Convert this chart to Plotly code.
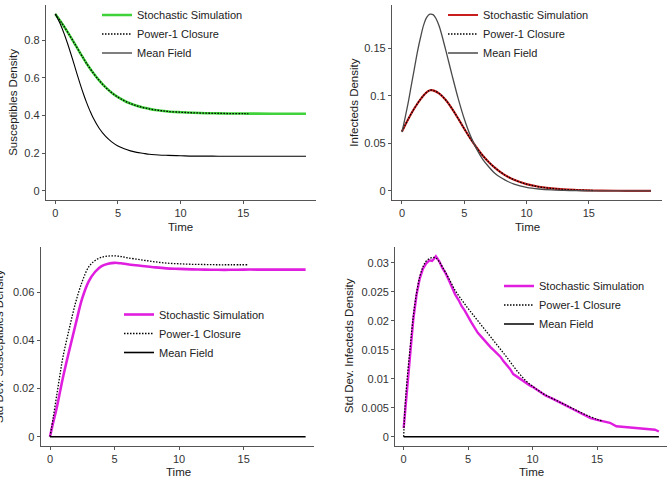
import plotly.graph_objects as go

# ---------------- DATA ----------------
# Mean field (top row)
t_mf = [0, 0.25, 0.5, 0.75, 1, 1.25, 1.5, 1.75, 2, 2.25, 2.5, 2.75, 3, 3.5, 4, 4.5, 5, 5.5,
        6, 6.5, 7, 7.5, 8, 8.5, 9, 10, 11, 12, 13, 14, 15, 16, 18, 20]
mf_S = [0.94, 0.908, 0.871, 0.827, 0.779, 0.727, 0.673, 0.618, 0.565, 0.515, 0.469, 0.428,
        0.391, 0.333, 0.291, 0.261, 0.239, 0.224, 0.213, 0.205, 0.200, 0.195, 0.192, 0.190,
        0.189, 0.187, 0.185, 0.185, 0.1845, 0.1843, 0.1843, 0.1843, 0.1842, 0.1842]
mf_I = [0.062, 0.077, 0.093, 0.111, 0.129, 0.147, 0.162, 0.175, 0.183, 0.186, 0.1855, 0.181,
        0.173, 0.149, 0.123, 0.098, 0.076, 0.058, 0.044, 0.033, 0.025, 0.018, 0.0136, 0.010,
        0.0073, 0.0039, 0.0021, 0.0011, 0.0006, 0.0003, 0.0002, 0.0001, 0.00003, 0.00001]

# Stochastic simulation (top row)
t_st = [0, 0.5, 1, 1.5, 2, 2.25, 2.5, 3, 3.5, 4, 4.5, 5, 5.5, 6, 6.5, 7, 7.5, 8, 8.5, 9,
        10, 11, 12, 13, 14, 15, 16, 18, 20]
st_S = [0.940, 0.893, 0.842, 0.787, 0.731, 0.704, 0.677, 0.629, 0.587, 0.551, 0.522, 0.498,
        0.479, 0.464, 0.452, 0.443, 0.436, 0.430, 0.426, 0.422, 0.418, 0.415, 0.413, 0.412,
        0.411, 0.411, 0.4105, 0.410, 0.410]
st_I = [0.0625, 0.0755, 0.087, 0.0967, 0.104, 0.106, 0.1058, 0.1025, 0.096, 0.087, 0.0765,
        0.0655, 0.055, 0.0455, 0.037, 0.030, 0.024, 0.019, 0.015, 0.0118, 0.0072, 0.0044,
        0.0027, 0.0016, 0.0010, 0.0006, 0.0004, 0.00015, 0.00005]

# Power-1 closure (top row)
t_pc = [0, 0.5, 1, 1.5, 2, 2.25, 2.5, 3, 3.5, 4, 4.5, 5, 5.5, 6, 6.5, 7, 7.5, 8, 8.5, 9,
        10, 11, 12, 13, 14, 15, 15.4]
pc_S = [0.940, 0.893, 0.842, 0.787, 0.731, 0.704, 0.677, 0.629, 0.587, 0.551, 0.522, 0.498,
        0.479, 0.464, 0.452, 0.443, 0.436, 0.430, 0.426, 0.422, 0.418, 0.415, 0.413, 0.412,
        0.411, 0.411, 0.411]
pc_I = [0.0625, 0.0755, 0.087, 0.0967, 0.104, 0.106, 0.1058, 0.1025, 0.096, 0.087, 0.0765,
        0.0655, 0.055, 0.0455, 0.037, 0.030, 0.024, 0.019, 0.015, 0.0118, 0.0072, 0.0044,
        0.0027, 0.0016, 0.0010, 0.0006, 0.0005]

# Std dev susceptibles (bottom left)
t_sdS_st = [0, 0.25, 0.5, 0.75, 1, 1.5, 2, 2.5, 3, 3.5, 4, 4.5, 5, 5.5, 6, 7, 8, 9, 10, 11,
            12, 13, 14, 15, 16, 17, 18, 19, 19.8]
sdS_st = [0, 0.006, 0.0115, 0.018, 0.0245, 0.036, 0.047, 0.0575, 0.0645, 0.0685, 0.0708,
          0.0718, 0.0722, 0.0720, 0.0716, 0.0710, 0.0704, 0.0699, 0.0697, 0.0695, 0.0694,
          0.0693, 0.0693, 0.0694, 0.0694, 0.0694, 0.0694, 0.0694, 0.0694]
t_sdS_pc = [0, 0.25, 0.5, 0.75, 1, 1.5, 2, 2.5, 3, 3.5, 4, 4.5, 5, 5.5, 6, 7, 8, 9, 10, 11,
            12, 13, 14, 15.4]
sdS_pc = [0, 0.008, 0.0165, 0.025, 0.033, 0.045, 0.056, 0.0645, 0.0705, 0.0732, 0.0745,
          0.0750, 0.0751, 0.0748, 0.0743, 0.0735, 0.0727, 0.0721, 0.0718, 0.0716, 0.0715,
          0.0714, 0.0714, 0.0714]

# Std dev infecteds (bottom right)
t_sdI_st = [0, 0.1, 0.25, 0.5, 0.75, 1, 1.25, 1.5, 1.75, 2, 2.2, 2.4, 2.5, 2.6, 2.75, 3, 3.25,
            3.5, 3.75, 4, 4.25, 4.5, 4.75, 5, 5.25, 5.5, 5.75, 6, 6.25, 6.5, 6.75, 7, 7.25,
            7.5, 7.75, 8, 8.25, 8.5, 8.75, 9, 9.25, 9.5, 9.75, 10, 10.5, 11, 11.5, 12, 12.5,
            13, 13.5, 14, 14.5, 15, 15.5, 16, 16.5, 17, 17.5, 18, 18.5, 19, 19.5, 19.8]
sdI_st = [0.0015, 0.0040, 0.0085, 0.0148, 0.0203, 0.0245, 0.0273, 0.0290, 0.0299, 0.0304,
          0.0303, 0.0308, 0.0311, 0.0308, 0.0303, 0.0291, 0.0282, 0.0270, 0.0256, 0.0245,
          0.0236, 0.0225, 0.0217, 0.0206, 0.0197, 0.0188, 0.0179, 0.0173, 0.0166, 0.0161,
          0.0154, 0.0149, 0.0143, 0.0138, 0.0130, 0.0124, 0.0117, 0.0108, 0.0104, 0.0101,
          0.0096, 0.0092, 0.0089, 0.0086, 0.0078, 0.0071, 0.0066, 0.0061, 0.0055, 0.0049,
          0.0043, 0.0037, 0.0032, 0.0029, 0.0027, 0.0024, 0.0018, 0.0017, 0.0016, 0.0016,
          0.0015, 0.0014, 0.0012, 0.0009]
t_sdI_pc = [0, 0.1, 0.25, 0.5, 0.75, 1, 1.25, 1.5, 1.75, 2, 2.25, 2.5, 2.75, 3, 3.5, 4, 4.5,
            5, 5.5, 6, 6.5, 7, 7.5, 8, 8.5, 9, 9.5, 10, 10.5, 11, 12, 13, 14, 15, 15.4]
sdI_pc = [0, 0.005, 0.0095, 0.0153, 0.0208, 0.0248, 0.0276, 0.0293, 0.0303, 0.0307, 0.0309,
          0.0308, 0.0302, 0.0293, 0.0273, 0.0252, 0.0236, 0.0221, 0.0207, 0.0193, 0.0179,
          0.0165, 0.0151, 0.0137, 0.0122, 0.0108, 0.0096, 0.0087, 0.0079, 0.0072, 0.0061,
          0.0050, 0.0039, 0.0030, 0.0027]

# Mean field std devs (zero)
t_mf_sd = [0, 19.8]
mf_sd = [0, 0]

# Tick labels
x_ticks = [0, 5, 10, 15]
x_ticktext = ["0", "5", "10", "15"]
yS_ticks = [0, 0.2, 0.4, 0.6, 0.8]
yS_ticktext = ["0", "0.2", "0.4", "0.6", "0.8"]
yI_ticks = [0, 0.05, 0.1, 0.15]
yI_ticktext = ["0", "0.05", "0.1", "0.15"]
ysdS_ticks = [0, 0.02, 0.04, 0.06]
ysdS_ticktext = ["0", "0.02", "0.04", "0.06"]
ysdI_ticks = [0, 0.005, 0.01, 0.015, 0.02, 0.025, 0.03]
ysdI_ticktext = ["0", "0.005", "0.01", "0.015", "0.02", "0.025", "0.03"]

names = ["Stochastic Simulation", "Power-1 Closure", "Mean Field"]

# ---------------- FIGURE ----------------
W, H = 667, 480
FONT = "Liberation Sans, Arial, Helvetica, sans-serif"
GREEN = "#3fd23a"
RED = "#c81e1e"
MAG = "#e01ee0"
DOT = "1.5px,1.5px"

fig = go.Figure()

def px_x(p):
    return p / W

def px_y(p):
    return 1 - p / H

# Top-left
fig.add_trace(go.Scatter(x=t_st, y=st_S, mode="lines", name=names[0], legend="legend",
                         line=dict(color=GREEN, width=2.6, shape="spline"), xaxis="x", yaxis="y"))
fig.add_trace(go.Scatter(x=t_pc, y=pc_S, mode="lines", name=names[1], legend="legend",
                         line=dict(color="black", width=1.3, dash=DOT, shape="spline"), xaxis="x", yaxis="y"))
fig.add_trace(go.Scatter(x=t_mf, y=mf_S, mode="lines", name=names[2], legend="legend",
                         line=dict(color="black", width=1.1, shape="spline"), xaxis="x", yaxis="y"))
# Top-right
fig.add_trace(go.Scatter(x=t_st, y=st_I, mode="lines", name=names[0], legend="legend2",
                         line=dict(color=RED, width=2.2, shape="spline"), xaxis="x2", yaxis="y2"))
fig.add_trace(go.Scatter(x=t_pc, y=pc_I, mode="lines", name=names[1], legend="legend2",
                         line=dict(color="black", width=1.3, dash=DOT, shape="spline"), xaxis="x2", yaxis="y2"))
fig.add_trace(go.Scatter(x=t_mf, y=mf_I, mode="lines", name=names[2], legend="legend2",
                         line=dict(color="#4a4a4a", width=1.3, shape="spline"), xaxis="x2", yaxis="y2"))
# Bottom-left
fig.add_trace(go.Scatter(x=t_sdS_st, y=sdS_st, mode="lines", name=names[0], legend="legend3",
                         line=dict(color=MAG, width=2.6, shape="spline"), xaxis="x3", yaxis="y3"))
fig.add_trace(go.Scatter(x=t_sdS_pc, y=sdS_pc, mode="lines", name=names[1], legend="legend3",
                         line=dict(color="black", width=1.3, dash=DOT, shape="spline"), xaxis="x3", yaxis="y3"))
fig.add_trace(go.Scatter(x=t_mf_sd, y=mf_sd, mode="lines", name=names[2], legend="legend3",
                         line=dict(color="black", width=1.6), xaxis="x3", yaxis="y3"))
# Bottom-right
fig.add_trace(go.Scatter(x=t_sdI_st, y=sdI_st, mode="lines", name=names[0], legend="legend4",
                         line=dict(color=MAG, width=2.4), xaxis="x4", yaxis="y4"))
fig.add_trace(go.Scatter(x=t_sdI_pc, y=sdI_pc, mode="lines", name=names[1], legend="legend4",
                         line=dict(color="black", width=1.3, dash=DOT, shape="spline"), xaxis="x4", yaxis="y4"))
fig.add_trace(go.Scatter(x=t_mf_sd, y=mf_sd, mode="lines", name=names[2], legend="legend4",
                         line=dict(color="black", width=1.6), xaxis="x4", yaxis="y4"))

AX = dict(showline=True, linecolor="#555555", linewidth=1.3, ticks="outside", ticklen=3,
          tickwidth=1, tickcolor="#555555", showgrid=False, zeroline=False, mirror=False,
          tickfont=dict(family=FONT, size=11, color="#333333"), fixedrange=True)

def xax(domain, rng, anchor):
    return dict(AX, domain=domain, range=rng, tickvals=x_ticks, ticktext=x_ticktext, anchor=anchor)

def yax(domain, rng, anchor, tv, tt):
    return dict(AX, domain=domain, range=rng, tickvals=tv, ticktext=tt, anchor=anchor)

top_dom = [px_y(200), px_y(4.7)]
bot_dom = [px_y(446), px_y(246.7)]

LEG = dict(font=dict(family=FONT, size=11, color="#222222"), bgcolor="rgba(0,0,0,0)",
           borderwidth=0, xanchor="left", yanchor="top", itemwidth=30, tracegroupgap=0,
           xref="paper", yref="paper")

fig.update_layout(
    width=W, height=H, margin=dict(l=0, r=0, t=0, b=0),
    paper_bgcolor="white", plot_bgcolor="white",
    font=dict(family=FONT, size=11, color="#222222"),
    xaxis=xax([px_x(46), px_x(316)], [-0.74, 20.8], "y"),
    yaxis=yax(top_dom, [-0.048, 0.989], "x", yS_ticks, yS_ticktext),
    xaxis2=xax([px_x(392), px_x(662)], [-0.80, 20.88], "y2"),
    yaxis2=yax(top_dom, [-0.0095, 0.196], "x2", yI_ticks, yI_ticktext),
    xaxis3=xax([px_x(40.7), px_x(314)], [-0.72, 20.45], "y3"),
    yaxis3=yax(bot_dom, [-0.00386, 0.0789], "x3", ysdS_ticks, ysdS_ticktext),
    xaxis4=xax([px_x(395.3), 1.0], [-0.65, 20.43], "y4"),
    yaxis4=yax(bot_dom, [-0.0016, 0.03276], "x4", ysdI_ticks, ysdI_ticktext),
    legend=dict(LEG, x=px_x(97), y=px_y(0.5)),
    legend2=dict(LEG, x=px_x(443), y=px_y(0.5)),
    legend3=dict(LEG, x=px_x(119), y=px_y(300)),
    legend4=dict(LEG, x=px_x(499), y=px_y(271.5)),
)

TITLE_FONT = dict(family=FONT, size=11.5, color="#222222")
titles = [
    ("Susceptibles Density", 13.3, 102.5, -90),
    ("Infecteds Density", 353.7, 103, -90),
    ("Std Dev. Susceptibles Density", -1, 347, -90),
    ("Std Dev. Infecteds Density", 348.7, 345.5, -90),
    ("Time", 180.3, 226.7, 0),
    ("Time", 527, 226.7, 0),
    ("Time", 178.3, 472.3, 0),
    ("Time", 531, 472.3, 0),
]
for txt, x, y, ang in titles:
    fig.add_annotation(text=txt, x=px_x(x), y=px_y(y), xref="paper", yref="paper",
                       xanchor="center", yanchor="middle", showarrow=False,
                       textangle=ang, font=TITLE_FONT)

fig.write_html("out.html")
